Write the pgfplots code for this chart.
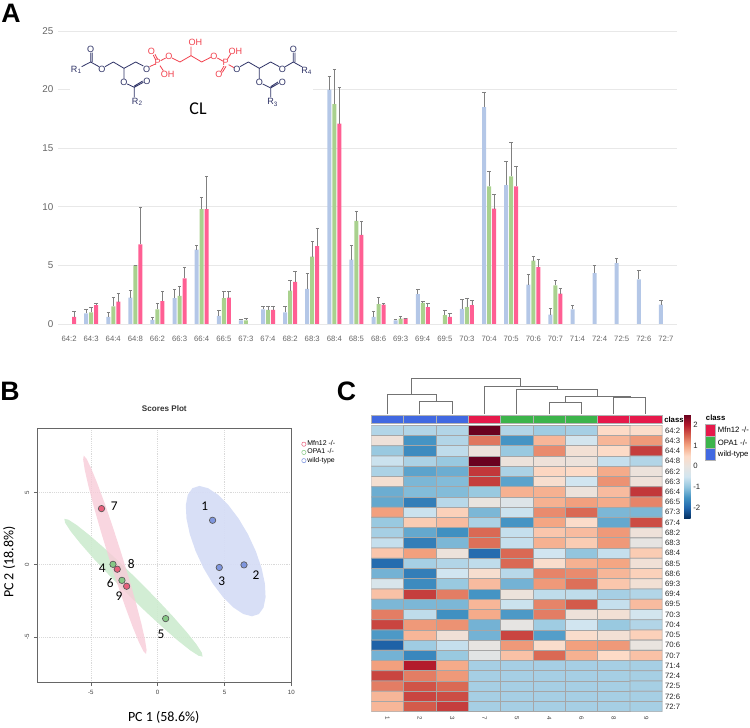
\documentclass[border=0pt]{standalone}
\usepackage{fontspec}
\setmainfont{Liberation Sans}
\newfontfamily\cali{Carlito}
\usepackage{pgfplots}
\usepackage{pgfplotstable}
\pgfplotsset{compat=1.18}
\definecolor{wtblue}{HTML}{B4C7E7}
\definecolor{opgreen}{HTML}{A9D18E}
\definecolor{mfpink}{HTML}{FF5F93}
\definecolor{navy}{HTML}{2F3367}
\definecolor{molred}{HTML}{F2434F}
\definecolor{clblue}{HTML}{4169E1}
\definecolor{clgreen}{HTML}{3CB44B}
\definecolor{clred}{HTML}{E6194B}
\definecolor{elpink}{HTML}{F8CCD8}
\definecolor{elgreen}{HTML}{CDEBCF}
\definecolor{elblue}{HTML}{D6DDF6}
\definecolor{ptpink}{HTML}{E8607C}
\definecolor{ptgreen}{HTML}{86C986}
\definecolor{ptblue}{HTML}{7F96DE}
\newcommand\fs[1]{\fontsize{#1}{#1}\selectfont}

% panel A: value, top of error bar
\pgfplotstableread{
x y top
1 0.9 1.25
2 0.6 1.0
3 2.25 2.9
4 0.35 0.6
5 2.2 2.95
6 6.35 6.7
7 0.7 1.2
8 0.3 0.4
9 1.25 1.5
10 1.0 1.5
11 3.0 4.35
12 20.0 21.1
13 5.5 6.75
14 0.6 1.05
15 0.3 0.4
16 2.55 2.95
18 1.3 2.1
19 18.5 19.8
20 11.85 13.9
21 3.35 4.25
22 0.8 1.3
23 1.25 1.6
24 4.35 5.0
25 5.2 5.6
26 3.8 4.55
27 1.65 2.05
}\wt
\pgfplotstableread{
x y top
1 1.0 1.45
2 1.5 2.3
3 5.0 5.0
4 1.25 1.8
5 2.4 3.25
6 9.8 10.8
7 2.2 2.75
8 0.3 0.45
9 1.2 1.55
10 2.85 3.7
11 5.75 7.05
12 18.75 21.75
13 8.8 9.65
14 1.7 2.3
15 0.45 0.65
16 1.8 1.95
17 0.75 1.2
18 1.45 2.2
19 11.75 13.0
20 12.6 15.5
21 5.4 5.75
22 3.3 3.7
}\opa
\pgfplotstableread{
x y top
0 0.6 1.05
1 1.6 1.75
2 1.9 2.6
3 6.8 10.0
4 1.95 2.75
5 3.9 4.8
6 9.8 12.6
7 2.25 2.75
9 1.2 1.55
10 3.6 4.5
11 6.65 8.2
12 17.1 20.2
13 7.6 8.8
14 1.65 1.75
15 0.5 0.5
16 1.45 1.75
17 0.6 0.9
18 1.6 2.0
19 9.85 11.05
20 11.75 13.5
21 4.85 5.5
22 2.6 3.05
}\mfn

\newcommand\cbox[5]{\addplot[fill=#1,draw=gray!60,line width=.4pt] coordinates {(#2,#3) (#4,#3) (#4,#5) (#2,#5) (#2,#3)};}

\begin{document}
\begin{tikzpicture}
\path[use as bounding box] (0,0) rectangle (562.5pt,546pt);

% ---- A ----
\begin{axis}[
  at={(43.5pt,303pt)}, anchor=south west, scale only axis,
  width=464.25pt, height=219.75pt,
  xmin=-0.5, xmax=27.5, ymin=0, ymax=25,
  ybar, bar width=3pt,
  axis line style={draw=none}, tick style={draw=none},
  ymajorgrids, grid style={draw=black!9,line width=.7pt},
  ytick={0,5,10,15,20,25},
  xtick={0,...,27},
  xticklabels={64:2,64:3,64:4,64:8,66:2,66:3,66:4,66:5,67:3,67:4,68:2,68:3,68:4,68:5,68:6,69:3,69:4,69:5,70:3,70:4,70:5,70:6,70:7,71:4,72:4,72:5,72:6,72:7},
  /pgf/number format/assume math mode=true,
  xticklabel style={font=\fs{5.8},text=black!60,yshift=-1pt},
  yticklabel style={font=\fs{7.4},text=black!60},
  error bars/error bar style={draw=gray,line width=.6pt},
  error bars/error mark options={rotate=90,mark size=1.3pt,draw=gray},
]
\addplot[fill=wtblue,draw=none,bar shift=-3.75pt,error bars/.cd,y dir=plus,y explicit]
  table[x=x,y=y,y error plus expr=\thisrow{top}-\thisrow{y}] {\wt};
\addplot[fill=opgreen,draw=none,bar shift=0pt,error bars/.cd,y dir=plus,y explicit]
  table[x=x,y=y,y error plus expr=\thisrow{top}-\thisrow{y}] {\opa};
\addplot[fill=mfpink,draw=none,bar shift=3.75pt,error bars/.cd,y dir=plus,y explicit]
  table[x=x,y=y,y error plus expr=\thisrow{top}-\thisrow{y}] {\mfn};
\end{axis}

% ---- molecule, in 3x pixel units ----
\begin{axis}[
  at={(0,0)}, anchor=south west, scale only axis, width=562.5pt, height=546pt,
  xmin=0, xmax=2250, ymin=0, ymax=2184, y dir=reverse, hide axis, clip=false]
\fill[white] (210,105) rectangle (940,325);
\draw[navy,line width=.6pt]
  (245,200)--(272,186)--(297,200) (272,186)--(272,158) (277,186)--(277,158)
  (315,200)--(340,186)--(372,205)--(407,186)--(430,198)
  (372,205)--(372,237) (382,252)--(403,262)--(430,247) (403,258)--(428,243) (403,262)--(403,292)
  (720,200)--(745,186)--(778,205)--(812,186)--(838,200)
  (856,200)--(880,186)--(905,200) (880,186)--(880,158) (885,186)--(885,158)
  (778,205)--(778,237) (788,252)--(812,264)--(836,250) (812,260)--(834,246) (812,264)--(812,292);
\draw[molred,line width=.6pt]
  (449,200)--(466,192) (467,180)--(460,165) (473,178)--(465,163) (480,197)--(490,212) (482,182)--(497,174)
  (516,174)--(540,186)--(573,167)--(605,186)--(632,172) (573,167)--(573,140)
  (652,174)--(670,184) (682,178)--(692,162) (672,198)--(662,215) (678,199)--(667,217) (686,194)--(702,203);
\begin{scope}[every node/.style={font=\fs{6.8},inner sep=0pt,text=navy}]
\node at (272,148) {O}; \node at (306,207) {O}; \node at (440,207) {O}; \node at (372,247) {O}; \node at (441,245) {O};
\node at (711,207) {O}; \node at (847,207) {O}; \node at (880,148) {O}; \node at (778,247) {O}; \node at (847,246) {O};
\node at (229,209) {R\textsubscript{1}}; \node at (412,306) {R\textsubscript{2}};
\node at (818,307) {R\textsubscript{3}}; \node at (920,212) {R\textsubscript{4}};
\end{scope}
\begin{scope}[every node/.style={font=\fs{6.8},inner sep=0pt,text=molred}]
\node at (454,155) {O}; \node at (473,188) {P}; \node at (503,222) {OH}; \node at (507,168) {O};
\node at (586,128) {OH}; \node at (642,168) {O}; \node at (677,188) {P}; \node at (706,154) {OH};
\node at (657,223) {O};
\end{scope}
\node[font=\cali\fs{13.5},inner sep=0pt] at (594,327) {CL};
\end{axis}

% ---- B ----
\begin{axis}[
  at={(28pt,34pt)}, anchor=south west, scale only axis,
  width=190.5pt, height=190.3pt,
  xmin=-9, xmax=10, ymin=-8.18, ymax=9.4,
  axis line style={draw=black!60,line width=.8pt},
  tick align=outside, tick pos=left, major tick length=2.5pt,
  tick style={draw=black!60,line width=.4pt},
  xtick={-5,0,5,10}, ytick={-5,0,5},
  grid=major, grid style={densely dotted,draw=black!15,line width=.4pt},
  /pgf/number format/assume math mode=true,
  ticklabel style={font=\fs{4.6},text=black!75},
  yticklabel style={rotate=90,anchor=south},
  title={Scores Plot},
  title style={font=\bfseries\fs{6.1},text=black!80,at={(axis description cs:.5,1.047)},anchor=center,inner sep=0pt},
  xlabel={PC 1 (58.6\%)},
  xlabel style={font=\cali\fs{10.5},at={(axis description cs:.4976,-.138)},anchor=center,inner sep=0pt},
  ylabel={PC 2 (18.8\%)},
  ylabel style={font=\cali\fs{10.5},at={(axis description cs:-.111,.4746)},anchor=center,inner sep=0pt},
  legend style={draw=none,fill=none,font=\fs{5.2},at={(1.04,.96)},anchor=north west,
    row sep=-1.1pt,inner sep=0pt,nodes={inner sep=1pt}},
  legend cell align=left,
]
\addlegendimage{only marks,mark=o,mark size=1.6pt,draw=ptpink}
\addlegendentry{Mfn12 -/-}
\addlegendimage{only marks,mark=o,mark size=1.6pt,draw=ptgreen}
\addlegendentry{OPA1 -/-}
\addlegendimage{only marks,mark=o,mark size=1.6pt,draw=ptblue}
\addlegendentry{wild-type}
\addplot[fill=elgreen,fill opacity=.9,draw=none,forget plot] coordinates {
(-6.98,3.17) (-6.685,3.117) (-6.057,2.741) (-5.14,2.069) (-3.997,1.149) (-2.705,0.041)
(-1.35,-1.18) (-0.027,-2.429) (1.173,-3.621) (2.17,-4.675) (2.897,-5.521) (3.303,-6.099)
(3.36,-6.37) (3.065,-6.317) (2.437,-5.941) (1.52,-5.269) (0.377,-4.349) (-0.915,-3.241)
(-2.27,-2.02) (-3.593,-0.771) (-4.793,0.421) (-5.79,1.475) (-6.517,2.321) (-6.923,2.899) (-6.98,3.17)};
\addplot[fill=elpink,fill opacity=.8,draw=none,forget plot] coordinates {
(-5.53,7.55) (-5.329,7.352) (-4.983,6.699) (-4.515,5.636) (-3.958,4.236) (-3.349,2.594)
(-2.73,0.82) (-2.143,-0.964) (-1.628,-2.634) (-1.221,-4.078) (-0.947,-5.199) (-0.827,-5.92)
(-0.87,-6.19) (-1.071,-5.992) (-1.417,-5.339) (-1.885,-4.276) (-2.442,-2.876) (-3.051,-1.234)
(-3.67,0.54) (-4.257,2.324) (-4.772,3.994) (-5.179,5.438) (-5.453,6.559) (-5.573,7.28) (-5.53,7.55)};
\addplot[fill=elblue,fill opacity=.95,draw=none,forget plot] coordinates {
(3.12,5.45) (3.77,5.296) (4.509,4.845) (5.288,4.127) (6.054,3.193) (6.754,2.104)
(7.34,0.935) (7.774,-0.234) (8.024,-1.323) (8.074,-2.257) (7.921,-2.975) (7.576,-3.426)
(7.06,-3.58) (6.41,-3.426) (5.671,-2.975) (4.892,-2.257) (4.126,-1.323) (3.426,-0.234)
(2.84,0.935) (2.406,2.104) (2.156,3.193) (2.106,4.127) (2.259,4.845) (2.604,5.296) (3.12,5.45)};
\addplot[only marks,mark=*,mark size=2.4pt,mark options={fill=ptgreen,draw=black!65,line width=.5pt},forget plot]
  coordinates {(-3.34,0.02) (-2.67,-1.09) (0.6,-3.74)};
\addplot[only marks,mark=*,mark size=2.4pt,mark options={fill=ptpink,draw=black!65,line width=.5pt},forget plot]
  coordinates {(-4.2,3.88) (-3.02,-0.32) (-2.32,-1.5)};
\addplot[only marks,mark=*,mark size=2.4pt,mark options={fill=ptblue,draw=black!65,line width=.5pt},forget plot]
  coordinates {(4.11,3.07) (6.46,-0.02) (4.61,-0.2)};
\begin{scope}[every node/.style={font=\cali\fs{10},inner sep=0pt}]
\node at (axis cs:3.52,4.02) {1}; \node at (axis cs:7.36,-0.74) {2}; \node at (axis cs:4.8,-1.15) {3};
\node at (axis cs:-4.14,-0.28) {4}; \node at (axis cs:0.25,-4.83) {5}; \node at (axis cs:-3.55,-1.29) {6};
\node at (axis cs:-3.24,4.02) {7}; \node at (axis cs:-1.97,0.05) {8}; \node at (axis cs:-2.89,-2.19) {9};
\end{scope}
\end{axis}

% ---- C heat map ----
\begin{axis}[
  at={(278.5pt,12.2pt)}, anchor=south west, scale only axis,
  width=218.25pt, height=214.8pt,
  xmin=0.5, xmax=9.5, ymin=0.5, ymax=28.5, y dir=reverse,
  axis line style={draw=none}, tick style={draw=none},
  xtick={1,...,9}, xticklabels={1,2,3,7,5,4,6,8,9},
  ytick={1,...,28},
  yticklabels={64:2,64:3,64:4,64:8,66:2,66:3,66:4,66:5,67:3,67:4,68:2,68:3,68:4,68:5,68:6,69:3,69:4,69:5,70:3,70:4,70:5,70:6,70:7,71:4,72:4,72:5,72:6,72:7},
  ticklabel pos=right, xticklabel pos=bottom,
  yticklabel style={font=\fs{5.8},text=black!85,xshift=-1.5pt},
  xticklabel style={font=\fs{4.6},text=black!75,rotate=270,anchor=west,yshift=0pt},
  colormap={rdbu}{rgb255=(5,48,97) rgb255=(33,102,172) rgb255=(67,147,195) rgb255=(146,197,222) rgb255=(209,229,240)
    rgb255=(232,228,224) rgb255=(253,219,199) rgb255=(244,165,130) rgb255=(214,96,77) rgb255=(178,24,43) rgb255=(103,0,31)},
  point meta min=-2.52, point meta max=2.52,
  colorbar,
  colorbar style={at={(1.0746,1.0384)},anchor=north west,width=5pt,height=78pt,
    ytick={-2,-1,0,1,2},ticklabel pos=right,tick style={draw=none},axis line style={draw=none},
    /pgf/number format/assume math mode=true,
    yticklabel style={font=\fs{5.8},text=black!85,xshift=-1.5pt}},
]
\addplot[matrix plot,mesh/cols=9,point meta=explicit,draw=black!35,faceted color=black!35,line width=.6pt] coordinates {
(1,1)[-0.75] (2,1)[-0.75] (3,1)[-0.75] (4,1)[2.5] (5,1)[-0.75] (6,1)[-0.9] (7,1)[-0.85] (8,1)[0.5] (9,1)[0.45]
(1,2)[0.15] (2,2)[-1.5] (3,2)[-0.75] (4,2)[1.35] (5,2)[-1.5] (6,2)[0.85] (7,2)[-0.45] (8,2)[0.85] (9,2)[1.1]
(1,3)[-0.95] (2,3)[-1.6] (3,3)[-0.65] (4,3)[0.1] (5,3)[-0.95] (6,3)[1.2] (7,3)[0.25] (8,3)[0.5] (9,3)[1.75]
(1,4)[-0.55] (2,4)[-0.8] (3,4)[-0.95] (4,4)[2.5] (5,4)[0.1] (6,4)[0.15] (7,4)[0.1] (8,4)[-0.6] (9,4)[-0.75]
(1,5)[-0.8] (2,5)[-1.35] (3,5)[-1.25] (4,5)[1.8] (5,5)[-0.8] (6,5)[0.55] (7,5)[0.5] (8,5)[0.95] (9,5)[0.1]
(1,6)[0.3] (2,6)[-1.15] (3,6)[-1.1] (4,6)[1.75] (5,6)[-1.35] (6,6)[0.35] (7,6)[-0.5] (8,6)[1.15] (9,6)[0.15]
(1,7)[-1.25] (2,7)[-1.1] (3,7)[-1.1] (4,7)[-0.95] (5,7)[0.9] (6,7)[0.9] (7,7)[0.1] (8,7)[0.8] (9,7)[1.8]
(1,8)[-1.3] (2,8)[-1.75] (3,8)[-0.7] (4,8)[0.02] (5,8)[-0.25] (6,8)[0.9] (7,8)[1.05] (8,8)[0.95] (9,8)[1.25]
(1,9)[1.05] (2,9)[-0.55] (3,9)[0.6] (4,9)[-1.15] (5,9)[-0.55] (6,9)[1.2] (7,9)[1.45] (8,9)[-1.15] (9,9)[-1.15]
(1,10)[-0.95] (2,10)[0.65] (3,10)[0.8] (4,10)[-0.8] (5,10)[-1.5] (6,10)[1.0] (7,10)[0.45] (8,10)[-1.3] (9,10)[1.65]
(1,11)[-0.85] (2,11)[-1.3] (3,11)[-1.55] (4,11)[1.45] (5,11)[-0.6] (6,11)[0.7] (7,11)[0.8] (8,11)[1.1] (9,11)[0.15]
(1,12)[-0.6] (2,12)[-1.75] (3,12)[-1.15] (4,12)[1.4] (5,12)[-0.6] (6,12)[0.9] (7,12)[0.65] (8,12)[1.1] (9,12)[-0.05]
(1,13)[0.7] (2,13)[1.05] (3,13)[0.1] (4,13)[-1.95] (5,13)[1.45] (6,13)[-0.5] (7,13)[-1.0] (8,13)[-0.6] (9,13)[0.65]
(1,14)[-1.95] (2,14)[-0.85] (3,14)[-0.75] (4,14)[-0.65] (5,14)[1.45] (6,14)[0.4] (7,14)[0.9] (8,14)[1.0] (9,14)[0.2]
(1,15)[-1.2] (2,15)[-1.75] (3,15)[-0.5] (4,15)[0.35] (5,15)[-0.7] (6,15)[1.25] (7,15)[1.2] (8,15)[0.85] (9,15)[0.6]
(1,16)[-0.35] (2,16)[-1.6] (3,16)[-0.95] (4,16)[0.8] (5,16)[-1.2] (6,16)[1.1] (7,16)[1.4] (8,16)[0.7] (9,16)[0.25]
(1,17)[0.75] (2,17)[1.75] (3,17)[1.3] (4,17)[-1.5] (5,17)[0.1] (6,17)[-0.65] (7,17)[-0.65] (8,17)[-0.85] (9,17)[-0.75]
(1,18)[-1.15] (2,18)[-1.15] (3,18)[-1.15] (4,18)[0.85] (5,18)[-0.55] (6,18)[1.25] (7,18)[1.55] (8,18)[-0.6] (9,18)[0.8]
(1,19)[1.3] (2,19)[-0.65] (3,19)[-1.55] (4,19)[0.95] (5,19)[-1.45] (6,19)[1.3] (7,19)[0.15] (8,19)[0.25] (9,19)[-0.45]
(1,20)[1.7] (2,20)[1.1] (3,20)[1.15] (4,20)[-1.2] (5,20)[-0.05] (6,20)[-0.9] (7,20)[-0.5] (8,20)[-0.95] (9,20)[-0.75]
(1,21)[-1.45] (2,21)[0.85] (3,21)[0.2] (4,21)[-1.2] (5,21)[1.7] (6,21)[-1.4] (7,21)[0.4] (8,21)[0.25] (9,21)[0.6]
(1,22)[-2.05] (2,22)[-0.9] (3,22)[-0.6] (4,22)[-0.02] (5,22)[1.1] (6,22)[0.4] (7,22)[1.05] (8,22)[1.1] (9,22)[0.02]
(1,23)[-1.2] (2,23)[-1.65] (3,23)[-0.95] (4,23)[-0.15] (5,23)[0.75] (6,23)[1.45] (7,23)[0.9] (8,23)[0.5] (9,23)[0.75]
(1,24)[1.05] (2,24)[2.0] (3,24)[0.95] (4,24)[-0.85] (5,24)[-0.85] (6,24)[-0.85] (7,24)[-0.85] (8,24)[-0.85] (9,24)[-0.85]
(1,25)[1.7] (2,25)[1.3] (3,25)[1.1] (4,25)[-0.85] (5,25)[-0.85] (6,25)[-0.85] (7,25)[-0.85] (8,25)[-0.85] (9,25)[-0.85]
(1,26)[1.3] (2,26)[1.6] (3,26)[1.45] (4,26)[-0.85] (5,26)[-0.85] (6,26)[-0.85] (7,26)[-0.85] (8,26)[-0.85] (9,26)[-0.85]
(1,27)[0.85] (2,27)[1.7] (3,27)[1.65] (4,27)[-0.85] (5,27)[-0.85] (6,27)[-0.85] (7,27)[-0.85] (8,27)[-0.85] (9,27)[-0.85]
(1,28)[0.85] (2,28)[1.55] (3,28)[1.75] (4,28)[-0.85] (5,28)[-0.85] (6,28)[-0.85] (7,28)[-0.85] (8,28)[-0.85] (9,28)[-0.85]
};
\end{axis}

% ---- overlay in reference pixels: letters, dendrogram, class bars ----
\begin{axis}[
  at={(0,0)}, anchor=south west, scale only axis, width=562.5pt, height=546pt,
  xmin=0, xmax=750, ymin=0, ymax=728, y dir=reverse, hide axis, clip=false,
  dend/.style={draw=black!55,line width=.7pt,sharp plot,no marks}]
\node[font=\bfseries\fs{20},inner sep=0pt] at (11,13) {A};
\node[font=\bfseries\fs{20},inner sep=0pt] at (10,391) {B};
\node[font=\bfseries\fs{20},inner sep=0pt] at (346.5,391) {C};
% dendrogram
\addplot[dend] coordinates {(419.8,414.3) (419.8,401.3) (452.1,401.3) (452.1,414.3)};
\addplot[dend] coordinates {(387.5,414.3) (387.5,394) (436,394) (436,401.3)};
\addplot[dend] coordinates {(411.5,394) (411.5,378.3) (520.7,378.3) (520.7,386)};
\addplot[dend] coordinates {(484.4,414.3) (484.4,386) (557,386) (557,389)};
\addplot[dend] coordinates {(516.7,414.3) (516.7,389) (597.7,389) (597.7,396.3)};
\addplot[dend] coordinates {(565,402.7) (565,396.3) (630,396.3) (630,397.3)};
\addplot[dend] coordinates {(549,414.3) (549,402.7) (581.3,402.7) (581.3,414.3)};
\addplot[dend] coordinates {(613.6,414.3) (613.6,397.3) (645.9,397.3) (645.9,414.3)};
% class bar
\cbox{clblue}{371.3}{415.3}{403.6}{423.7}
\cbox{clblue}{403.6}{415.3}{435.9}{423.7}
\cbox{clblue}{435.9}{415.3}{468.2}{423.7}
\cbox{clred}{468.2}{415.3}{500.5}{423.7}
\cbox{clgreen}{500.5}{415.3}{532.8}{423.7}
\cbox{clgreen}{532.8}{415.3}{565.1}{423.7}
\cbox{clgreen}{565.1}{415.3}{597.4}{423.7}
\cbox{clred}{597.4}{415.3}{629.7}{423.7}
\cbox{clred}{629.7}{415.3}{662.3}{423.7}
\node[font=\bfseries\fs{5.8},anchor=west,inner sep=0pt] at (664,420) {class};
% class legend
\node[font=\bfseries\fs{5.8},anchor=west,inner sep=0pt] at (705.7,418) {class};
\cbox{clred}{705.7}{424}{715.7}{436}
\cbox{clgreen}{705.7}{436}{715.7}{448.3}
\cbox{clblue}{705.7}{448.3}{715.7}{460.7}
\node[font=\fs{5.8},anchor=west,inner sep=0pt] at (717.7,430) {Mfn12 -/-};
\node[font=\fs{5.8},anchor=west,inner sep=0pt] at (717.7,442.3) {OPA1 -/-};
\node[font=\fs{5.8},anchor=west,inner sep=0pt] at (717.7,454.5) {wild-type};
\end{axis}
\end{tikzpicture}
\end{document}
